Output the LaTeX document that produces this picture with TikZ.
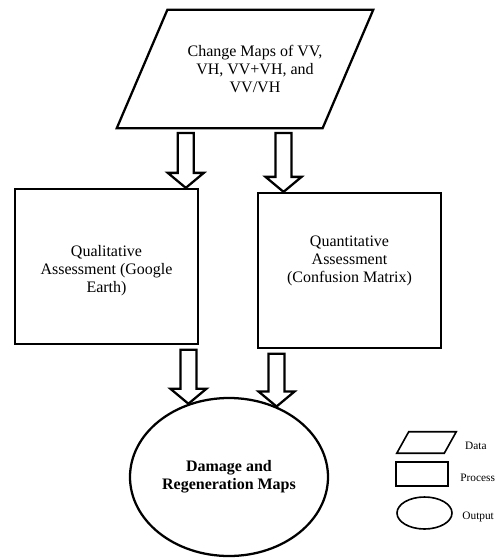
\documentclass[tikz,border=0pt]{standalone}
\usepackage{fontspec}
\setmainfont{Liberation Serif}
\usetikzlibrary{shapes.geometric,calc,positioning}

\tikzset{
  box/.style={rectangle, inner sep=0pt},
  proc/.style={draw, line width=1.7pt, rectangle, inner sep=0pt},
  outp/.style={draw, line width=1.7pt, ellipse, inner sep=0pt},
  txt/.style={align=center, font=\fontsize{12}{13.5}\selectfont},
  fatarr/.style={draw, line width=1.7pt, fill=white, line join=miter},
  legtxt/.style={font=\fontsize{8.5}{10}\selectfont, inner sep=0pt},
}

% hollow block arrow: shaft starts below #1, tip at #2
\newcommand\fatarrow[2]{%
  \path[fatarr] let \p1=(#1), \p2=(#2) in
    (\x2-6pt,\y1-3.5pt) -- (\x2+6pt,\y1-3.5pt) -- (\x2+6pt,\y2+11.25pt)
    -- (\x2+13.5pt,\y2+11.25pt) -- (\x2,\y2) -- (\x2-13.5pt,\y2+11.25pt)
    -- (\x2-6pt,\y2+11.25pt) -- cycle;}

% parallelogram inside the box node #2, slant #3
\newcommand\slantbox[3][1.7pt]{%
  \draw[line width=#1, line join=miter] ([xshift=#3]#2.north west) -- (#2.north east)
    -- ([xshift=-#3]#2.south east) -- (#2.south west) -- cycle;}

\begin{document}
\begin{tikzpicture}[x=0.75pt, y=-0.75pt]
\useasboundingbox (0,0) rectangle (499,558);

% input data
\node[box, minimum width=192pt, minimum height=88.5pt] (maps) at (245,69) {};
\slantbox{maps}{38pt}
\node[txt] (mapstext) at (255,69) {Change Maps of VV,\\VH, VV+VH, and\\VV/VH};

% the two assessments
\node[proc, minimum width=137.25pt, minimum height=116.25pt] (qual) at (106.5,266.5) {};
\node[txt] (qualtext) at (106.5,271) {Qualitative\\Assessment (Google\\Earth)};

\node[proc, minimum width=137.25pt, minimum height=116.25pt] (quan) at (349.5,270.5) {};
\node[txt] (quantext) at (349.5,261) {Quantitative\\Assessment\\(Confusion Matrix)};

% result
\node[outp, minimum width=148.5pt, minimum height=118.5pt, txt, font=\fontsize{12}{13.5}\selectfont\bfseries] (out) at (229,477)
  {Damage and\\Regeneration Maps};

% arrows
\fatarrow{maps.south}{[xshift=-10pt]qual.north east}
\fatarrow{maps.south}{[xshift=20pt]quan.north west}
\fatarrow{qual.south}{out.119}
\fatarrow{quan.south}{out.56}

% legend
\node[box, minimum width=44.25pt, minimum height=15.75pt] (lgdata) at (426.5,442.5) {};
\slantbox[1.2pt]{lgdata}{9pt}
\node[legtxt, right=6.5pt of lgdata, yshift=-2.5pt] (lgdatatext) {Data};

\node[proc, line width=1.2pt, minimum width=39pt, minimum height=18pt] (lgproc) at (422,474) {};
\node[legtxt, right=8.5pt of lgproc, yshift=-3pt] (lgproctext) {Process};

\node[outp, line width=1.2pt, minimum width=41.25pt, minimum height=24pt] (lgout) at (424.5,513) {};
\node[legtxt, right=7pt of lgout, yshift=-3pt] (lgouttext) {Output};
\end{tikzpicture}
\end{document}
